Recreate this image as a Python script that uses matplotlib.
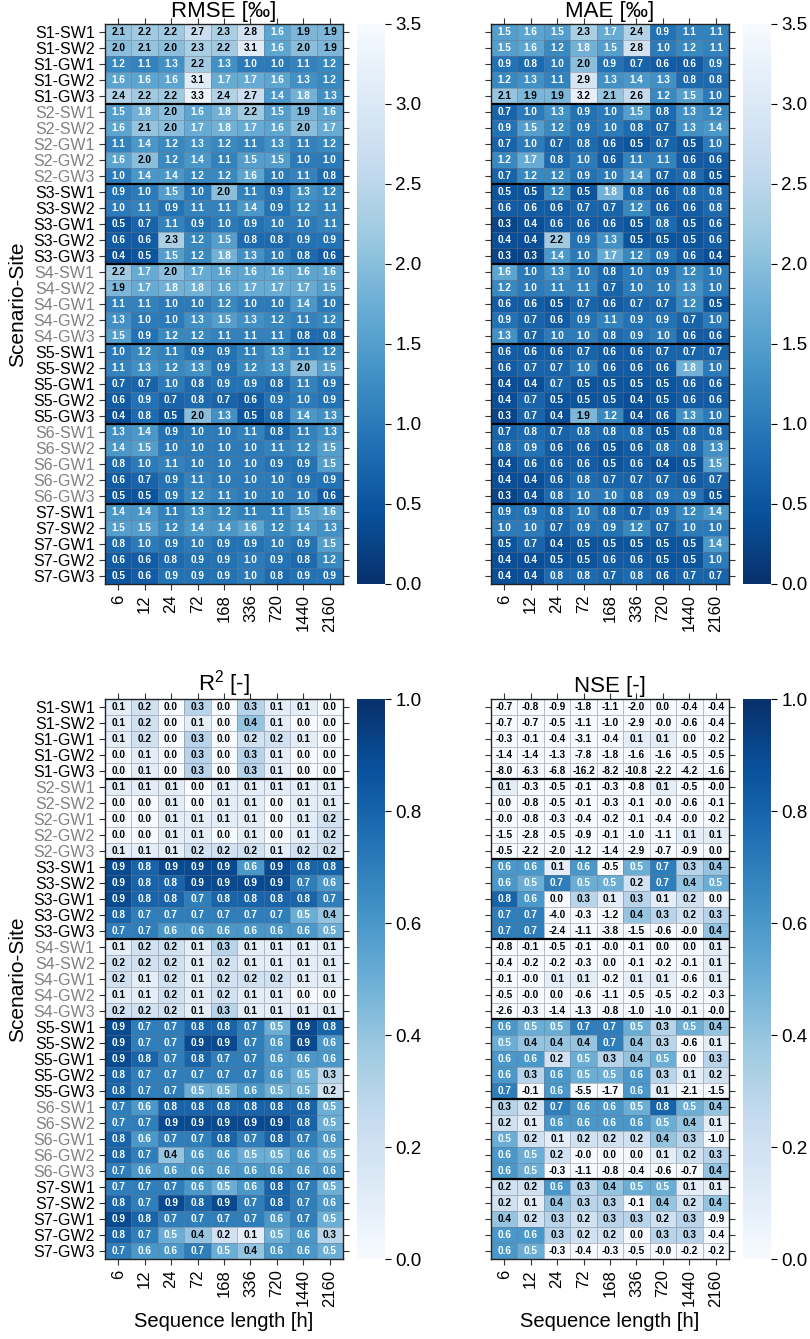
import numpy as np
import matplotlib.pyplot as plt

plt.rcParams['font.family'] = ['Liberation Sans', 'DejaVu Sans']
plt.rcParams['mathtext.fontset'] = 'custom'
plt.rcParams['mathtext.rm'] = 'Liberation Sans'
plt.rcParams['mathtext.it'] = 'Liberation Sans'

sites = ['SW1', 'SW2', 'GW1', 'GW2', 'GW3']
row_labels = ['S%d-%s' % (s, w) for s in range(1, 8) for w in sites]
seq_len = ['6', '12', '24', '72', '168', '336', '720', '1440', '2160']

rmse = [
    [2.1, 2.2, 2.2, 2.7, 2.3, 2.8, 1.6, 1.9, 1.9],
    [2.0, 2.1, 2.0, 2.3, 2.2, 3.1, 1.6, 2.0, 1.9],
    [1.2, 1.1, 1.3, 2.2, 1.3, 1.0, 1.0, 1.1, 1.2],
    [1.6, 1.6, 1.6, 3.1, 1.7, 1.7, 1.6, 1.3, 1.2],
    [2.4, 2.2, 2.2, 3.3, 2.4, 2.7, 1.4, 1.8, 1.3],
    [1.5, 1.8, 2.0, 1.6, 1.8, 2.2, 1.5, 1.9, 1.6],
    [1.6, 2.1, 2.0, 1.7, 1.8, 1.7, 1.6, 2.0, 1.7],
    [1.1, 1.4, 1.2, 1.3, 1.2, 1.1, 1.3, 1.1, 1.2],
    [1.6, 2.0, 1.2, 1.4, 1.1, 1.5, 1.5, 1.0, 1.0],
    [1.0, 1.4, 1.4, 1.2, 1.2, 1.6, 1.0, 1.1, 0.8],
    [0.9, 1.0, 1.5, 1.0, 2.0, 1.1, 0.9, 1.3, 1.2],
    [1.0, 1.1, 0.9, 1.1, 1.1, 1.4, 0.9, 1.2, 1.1],
    [0.5, 0.7, 1.1, 0.9, 1.0, 0.9, 1.0, 1.0, 1.1],
    [0.6, 0.6, 2.3, 1.2, 1.5, 0.8, 0.8, 0.9, 0.9],
    [0.4, 0.5, 1.5, 1.2, 1.8, 1.3, 1.0, 0.8, 0.6],
    [2.2, 1.7, 2.0, 1.7, 1.6, 1.6, 1.6, 1.6, 1.6],
    [1.9, 1.7, 1.8, 1.8, 1.6, 1.7, 1.7, 1.7, 1.5],
    [1.1, 1.1, 1.0, 1.0, 1.2, 1.0, 1.0, 1.4, 1.0],
    [1.3, 1.0, 1.0, 1.3, 1.5, 1.3, 1.2, 1.1, 1.2],
    [1.5, 0.9, 1.2, 1.2, 1.1, 1.1, 1.1, 0.8, 0.8],
    [1.0, 1.2, 1.1, 0.9, 0.9, 1.1, 1.3, 1.1, 1.2],
    [1.1, 1.3, 1.2, 1.3, 0.9, 1.2, 1.3, 2.0, 1.5],
    [0.7, 0.7, 1.0, 0.8, 0.9, 0.9, 0.8, 1.1, 0.9],
    [0.6, 0.9, 0.7, 0.8, 0.7, 0.6, 0.9, 1.0, 0.9],
    [0.4, 0.8, 0.5, 2.0, 1.3, 0.5, 0.8, 1.4, 1.3],
    [1.3, 1.4, 0.9, 1.0, 1.0, 1.1, 0.8, 1.1, 1.3],
    [1.4, 1.5, 1.0, 1.0, 1.0, 1.0, 1.1, 1.2, 1.5],
    [0.8, 1.0, 1.1, 1.0, 1.0, 1.0, 0.9, 0.9, 1.5],
    [0.6, 0.7, 0.9, 1.1, 1.0, 1.0, 1.0, 0.9, 0.9],
    [0.5, 0.5, 0.9, 1.2, 1.1, 1.0, 1.0, 1.0, 0.6],
    [1.4, 1.4, 1.1, 1.3, 1.2, 1.1, 1.1, 1.5, 1.6],
    [1.5, 1.5, 1.2, 1.4, 1.4, 1.6, 1.2, 1.4, 1.3],
    [0.8, 1.0, 0.9, 1.0, 0.9, 0.9, 1.0, 0.9, 1.5],
    [0.6, 0.6, 0.8, 0.9, 0.9, 1.0, 0.9, 0.8, 1.2],
    [0.5, 0.6, 0.9, 0.9, 0.9, 1.0, 0.8, 0.9, 0.9],
]

mae = [
    [1.5, 1.6, 1.5, 2.3, 1.7, 2.4, 0.9, 1.1, 1.1],
    [1.5, 1.6, 1.2, 1.8, 1.5, 2.8, 1.0, 1.2, 1.1],
    [0.9, 0.8, 1.0, 2.0, 0.9, 0.7, 0.6, 0.6, 0.9],
    [1.2, 1.3, 1.1, 2.9, 1.3, 1.4, 1.3, 0.8, 0.8],
    [2.1, 1.9, 1.9, 3.2, 2.1, 2.6, 1.2, 1.5, 1.0],
    [0.7, 1.0, 1.3, 0.9, 1.0, 1.5, 0.8, 1.3, 1.2],
    [0.9, 1.5, 1.2, 0.9, 1.0, 0.8, 0.7, 1.3, 1.4],
    [0.7, 1.0, 0.7, 0.8, 0.6, 0.5, 0.7, 0.5, 1.0],
    [1.2, 1.7, 0.8, 1.0, 0.6, 1.1, 1.1, 0.6, 0.6],
    [0.7, 1.2, 1.2, 0.9, 1.0, 1.4, 0.7, 0.8, 0.5],
    [0.5, 0.5, 1.2, 0.5, 1.8, 0.8, 0.6, 0.8, 0.8],
    [0.6, 0.6, 0.6, 0.7, 0.7, 1.2, 0.6, 0.6, 0.8],
    [0.3, 0.4, 0.6, 0.6, 0.6, 0.5, 0.8, 0.5, 0.6],
    [0.4, 0.4, 2.2, 0.9, 1.3, 0.5, 0.5, 0.5, 0.6],
    [0.3, 0.3, 1.4, 1.0, 1.7, 1.2, 0.9, 0.6, 0.4],
    [1.6, 1.0, 1.3, 1.0, 0.8, 1.0, 0.9, 1.2, 1.0],
    [1.2, 1.0, 1.1, 1.1, 0.7, 1.0, 1.0, 1.3, 1.0],
    [0.6, 0.6, 0.5, 0.7, 0.6, 0.7, 0.7, 1.2, 0.5],
    [0.9, 0.7, 0.6, 0.9, 1.1, 0.9, 0.9, 0.7, 1.0],
    [1.3, 0.7, 1.0, 1.0, 0.8, 0.9, 1.0, 0.6, 0.6],
    [0.6, 0.6, 0.6, 0.7, 0.6, 0.6, 0.7, 0.7, 0.7],
    [0.6, 0.7, 0.7, 1.0, 0.6, 0.6, 0.6, 1.8, 1.0],
    [0.4, 0.4, 0.7, 0.5, 0.5, 0.5, 0.5, 0.6, 0.6],
    [0.4, 0.7, 0.5, 0.5, 0.5, 0.4, 0.5, 0.6, 0.6],
    [0.3, 0.7, 0.4, 1.9, 1.2, 0.4, 0.6, 1.3, 1.0],
    [0.7, 0.8, 0.7, 0.8, 0.8, 0.8, 0.5, 0.8, 0.8],
    [0.8, 0.9, 0.6, 0.6, 0.5, 0.6, 0.8, 0.8, 1.3],
    [0.4, 0.6, 0.6, 0.6, 0.5, 0.6, 0.4, 0.5, 1.5],
    [0.4, 0.4, 0.6, 0.8, 0.7, 0.7, 0.7, 0.6, 0.7],
    [0.3, 0.4, 0.8, 1.0, 1.0, 0.8, 0.9, 0.9, 0.5],
    [0.9, 0.9, 0.8, 1.0, 0.8, 0.7, 0.9, 1.2, 1.4],
    [1.0, 1.0, 0.7, 0.9, 0.9, 1.2, 0.7, 1.0, 1.0],
    [0.5, 0.7, 0.4, 0.5, 0.5, 0.5, 0.5, 0.5, 1.4],
    [0.4, 0.4, 0.5, 0.5, 0.6, 0.6, 0.5, 0.5, 1.0],
    [0.4, 0.4, 0.8, 0.8, 0.7, 0.8, 0.6, 0.7, 0.7],
]

r2 = [
    [0.1, 0.2, 0.0, 0.3, 0.0, 0.3, 0.1, 0.1, 0.0],
    [0.1, 0.2, 0.0, 0.1, 0.0, 0.4, 0.1, 0.0, 0.0],
    [0.1, 0.2, 0.0, 0.3, 0.0, 0.2, 0.2, 0.1, 0.0],
    [0.0, 0.1, 0.0, 0.3, 0.0, 0.3, 0.1, 0.0, 0.0],
    [0.0, 0.1, 0.0, 0.3, 0.0, 0.3, 0.1, 0.0, 0.0],
    [0.1, 0.1, 0.1, 0.0, 0.1, 0.1, 0.1, 0.1, 0.1],
    [0.0, 0.0, 0.1, 0.0, 0.1, 0.1, 0.0, 0.1, 0.1],
    [0.0, 0.0, 0.1, 0.1, 0.1, 0.1, 0.0, 0.1, 0.2],
    [0.0, 0.0, 0.1, 0.1, 0.0, 0.1, 0.0, 0.1, 0.2],
    [0.1, 0.1, 0.1, 0.2, 0.2, 0.2, 0.1, 0.2, 0.2],
    [0.9, 0.8, 0.9, 0.9, 0.9, 0.6, 0.9, 0.8, 0.8],
    [0.9, 0.8, 0.8, 0.9, 0.9, 0.9, 0.9, 0.7, 0.6],
    [0.9, 0.8, 0.8, 0.7, 0.8, 0.8, 0.8, 0.8, 0.7],
    [0.8, 0.7, 0.7, 0.7, 0.7, 0.7, 0.7, 0.5, 0.4],
    [0.7, 0.7, 0.6, 0.6, 0.6, 0.6, 0.6, 0.6, 0.5],
    [0.1, 0.2, 0.2, 0.1, 0.3, 0.1, 0.1, 0.1, 0.1],
    [0.2, 0.2, 0.2, 0.1, 0.2, 0.1, 0.1, 0.1, 0.1],
    [0.2, 0.1, 0.2, 0.1, 0.2, 0.2, 0.2, 0.1, 0.1],
    [0.1, 0.1, 0.2, 0.1, 0.2, 0.1, 0.1, 0.0, 0.0],
    [0.2, 0.2, 0.2, 0.1, 0.3, 0.1, 0.1, 0.1, 0.1],
    [0.9, 0.7, 0.7, 0.8, 0.8, 0.7, 0.5, 0.9, 0.8],
    [0.9, 0.7, 0.7, 0.9, 0.9, 0.7, 0.6, 0.9, 0.6],
    [0.9, 0.8, 0.7, 0.8, 0.7, 0.7, 0.6, 0.6, 0.6],
    [0.8, 0.7, 0.7, 0.7, 0.7, 0.7, 0.6, 0.5, 0.3],
    [0.8, 0.7, 0.7, 0.5, 0.5, 0.6, 0.5, 0.5, 0.2],
    [0.7, 0.6, 0.8, 0.8, 0.8, 0.8, 0.8, 0.8, 0.5],
    [0.7, 0.7, 0.9, 0.9, 0.9, 0.9, 0.9, 0.8, 0.5],
    [0.8, 0.6, 0.7, 0.7, 0.8, 0.7, 0.8, 0.7, 0.6],
    [0.8, 0.7, 0.4, 0.6, 0.6, 0.5, 0.5, 0.6, 0.5],
    [0.7, 0.6, 0.6, 0.6, 0.6, 0.6, 0.6, 0.6, 0.6],
    [0.7, 0.7, 0.7, 0.6, 0.5, 0.6, 0.8, 0.7, 0.5],
    [0.8, 0.7, 0.9, 0.8, 0.9, 0.7, 0.8, 0.7, 0.6],
    [0.9, 0.8, 0.7, 0.7, 0.7, 0.7, 0.6, 0.7, 0.5],
    [0.8, 0.7, 0.5, 0.4, 0.2, 0.1, 0.5, 0.6, 0.3],
    [0.7, 0.6, 0.6, 0.7, 0.5, 0.4, 0.6, 0.6, 0.5],
]

nse = [
    [-0.7, -0.8, -0.9, -1.8, -1.1, -2.0, 0.0, -0.4, -0.4],
    [-0.7, -0.7, -0.5, -1.1, -1.0, -2.9, -0.0, -0.6, -0.4],
    [-0.3, -0.1, -0.4, -3.1, -0.4, 0.1, 0.1, 0.0, -0.2],
    [-1.4, -1.4, -1.3, -7.8, -1.8, -1.6, -1.6, -0.5, -0.5],
    [-8.0, -6.3, -6.8, -16.2, -8.2, -10.8, -2.2, -4.2, -1.6],
    [0.1, -0.3, -0.5, -0.1, -0.3, -0.8, 0.1, -0.5, -0.0],
    [0.0, -0.8, -0.5, -0.1, -0.3, -0.1, -0.0, -0.6, -0.1],
    [-0.0, -0.8, -0.3, -0.4, -0.2, -0.1, -0.4, -0.0, -0.2],
    [-1.5, -2.8, -0.5, -0.9, -0.1, -1.0, -1.1, 0.1, 0.1],
    [-0.5, -2.2, -2.0, -1.2, -1.4, -2.9, -0.7, -0.9, 0.0],
    [0.6, 0.6, 0.1, 0.6, -0.5, 0.5, 0.7, 0.3, 0.4],
    [0.6, 0.5, 0.7, 0.5, 0.5, 0.2, 0.7, 0.4, 0.5],
    [0.8, 0.6, 0.0, 0.3, 0.1, 0.3, 0.1, 0.2, 0.0],
    [0.7, 0.7, -4.0, -0.3, -1.2, 0.4, 0.3, 0.2, 0.3],
    [0.7, 0.7, -2.4, -1.1, -3.8, -1.5, -0.6, -0.0, 0.4],
    [-0.8, -0.1, -0.5, -0.1, -0.0, -0.1, 0.0, 0.0, 0.1],
    [-0.4, -0.2, -0.2, -0.3, 0.0, -0.1, -0.2, -0.1, 0.1],
    [-0.1, -0.0, 0.1, 0.1, -0.2, 0.1, 0.1, -0.6, 0.1],
    [-0.5, -0.0, 0.0, -0.6, -1.1, -0.5, -0.5, -0.2, -0.3],
    [-2.6, -0.3, -1.4, -1.3, -0.8, -1.0, -1.0, -0.1, -0.0],
    [0.6, 0.5, 0.5, 0.7, 0.7, 0.5, 0.3, 0.5, 0.4],
    [0.5, 0.4, 0.4, 0.4, 0.7, 0.4, 0.3, -0.6, 0.1],
    [0.6, 0.6, 0.2, 0.5, 0.3, 0.4, 0.5, 0.0, 0.3],
    [0.6, 0.3, 0.6, 0.5, 0.5, 0.6, 0.3, 0.1, 0.2],
    [0.7, -0.1, 0.6, -5.5, -1.7, 0.6, 0.1, -2.1, -1.5],
    [0.3, 0.2, 0.7, 0.6, 0.6, 0.5, 0.8, 0.5, 0.4],
    [0.2, 0.1, 0.6, 0.6, 0.6, 0.6, 0.5, 0.4, 0.1],
    [0.5, 0.2, 0.1, 0.2, 0.2, 0.2, 0.4, 0.3, -1.0],
    [0.6, 0.5, 0.2, -0.0, 0.0, 0.0, 0.1, 0.2, 0.3],
    [0.6, 0.5, -0.3, -1.1, -0.8, -0.4, -0.6, -0.7, 0.4],
    [0.2, 0.2, 0.6, 0.3, 0.4, 0.5, 0.5, 0.1, 0.1],
    [0.2, 0.1, 0.4, 0.3, 0.3, -0.1, 0.4, 0.2, 0.4],
    [0.4, 0.2, 0.3, 0.2, 0.3, 0.3, 0.2, 0.3, -0.9],
    [0.6, 0.6, 0.3, 0.2, 0.2, 0.0, 0.3, 0.3, -0.4],
    [0.6, 0.5, -0.3, -0.4, -0.3, -0.5, -0.0, -0.2, -0.2],
]


def luminance(rgba):
    rgb = np.array(rgba[:3])
    rgb = np.where(rgb <= 0.03928, rgb / 12.92, ((rgb + 0.055) / 1.055) ** 2.4)
    return 0.2126 * rgb[0] + 0.7152 * rgb[1] + 0.0722 * rgb[2]


def heatmap(ax, cax, values, title, cmap, vmax, cticks, left, bottom):
    data = np.array(values)
    nrow, ncol = data.shape
    mesh = ax.pcolormesh(data, cmap=cmap, vmin=0, vmax=vmax,
                         edgecolors=(0.45, 0.45, 0.5, 0.45), linewidth=0.4)
    ax.set_xlim(0, ncol)
    ax.set_ylim(nrow, 0)
    for i in range(nrow):
        for j in range(ncol):
            c = mesh.cmap(mesh.norm(data[i, j]))
            tc = 'black' if luminance(c) > 0.408 else 'white'
            ax.text(j + 0.5, i + 0.5, '%.1f' % data[i, j], ha='center', va='center',
                    fontsize=7.2, fontweight='bold', color=tc)
    # black lines between the scenario blocks
    for k in range(5, nrow, 5):
        ax.axhline(k, color='black', lw=1.6)
    ax.set_xticks(np.arange(ncol) + 0.5)
    ax.set_yticks(np.arange(nrow) + 0.5)
    ax.tick_params(which='both', direction='out', top=True, right=True,
                   labeltop=False, labelright=False, length=4, width=0.8, color='#333333')
    ax.set_xticklabels(seq_len, rotation=90, fontsize=12)
    if left:
        ax.set_yticklabels(row_labels, fontsize=11.5)
        for lab in ax.get_yticklabels():
            if lab.get_text()[1] in '246':
                lab.set_color('#808080')
        ax.set_ylabel('Scenario-Site', fontsize=15)
    else:
        ax.set_yticklabels([])
    if bottom:
        ax.set_xlabel('Sequence length [h]', fontsize=14.5)
    ax.set_title(title, fontsize=16, pad=5)
    for s in ax.spines.values():
        s.set_linewidth(1.0)
        s.set_color('#222222')
    cb = plt.colorbar(mesh, cax=cax)
    cb.set_ticks(cticks)
    cb.set_ticklabels(['%.1f' % t for t in cticks])
    cb.ax.tick_params(labelsize=13.5, length=4, width=0.8)
    cb.outline.set_visible(False)


fig = plt.figure(figsize=(8.1, 13.39), dpi=100)
W, H = 810.0, 1339.0
hx = [105, 491]
cx = [357, 743]
hy = [24, 699]
hw, hh, cw = 238, 560, 28

panels = [
    (rmse, 'RMSE [‰]', 'Blues_r', 3.5, np.arange(0, 3.51, 0.5)),
    (mae, 'MAE [‰]', 'Blues_r', 3.5, np.arange(0, 3.51, 0.5)),
    (r2, 'R$^2$ [-]', 'Blues', 1.0, np.arange(0, 1.01, 0.2)),
    (nse, 'NSE [-]', 'Blues', 1.0, np.arange(0, 1.01, 0.2)),
]

for n, (vals, title, cmap, vmax, cticks) in enumerate(panels):
    r, c = divmod(n, 2)
    ax = fig.add_axes([hx[c] / W, 1 - (hy[r] + hh) / H, hw / W, hh / H])
    cax = fig.add_axes([cx[c] / W, 1 - (hy[r] + hh) / H, cw / W, hh / H])
    heatmap(ax, cax, vals, title, cmap, vmax, cticks, left=(c == 0), bottom=(r == 1))

fig.savefig('out.png', dpi=100)
